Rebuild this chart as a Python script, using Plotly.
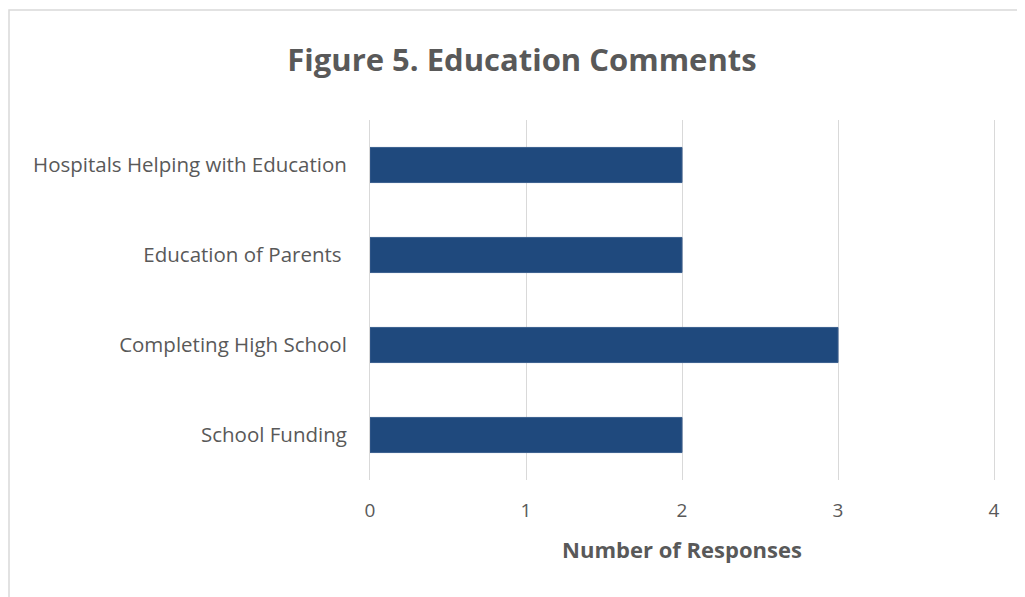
import plotly.graph_objects as go

categories = ["School Funding", "Completing High School", "Education of Parents\u00a0", "Hospitals Helping with Education"]
values = [2, 3, 2, 2]
x_ticks = [0, 1, 2, 3, 4]

# page body has an 8px margin, so the figure is drawn 8px smaller
W, H = 1017, 589
L, R, T, B = 362, 31, 112, 117
pw, ph = W - L - R, H - T - B

fig = go.Figure(go.Bar(
    y=categories, x=values, orientation="h",
    marker=dict(color="#1F497D", line=dict(color="#3A5F8F", width=1)),
))

fig.update_layout(
    width=W, height=H,
    margin=dict(l=L, r=R, t=T, b=B),
    paper_bgcolor="white", plot_bgcolor="white",
    bargap=0.61,
    showlegend=False,
    font=dict(family="Open Sans, sans-serif", color="#595959", size=20),
    title=dict(text="<b>Figure 5. Education Comments</b>", x=514 / W, xanchor="center",
               y=1 - 52 / H, yanchor="middle", font=dict(size=31, color="#595959")),
    xaxis=dict(range=[0, 4], tickvals=x_ticks, showgrid=True, gridcolor="#D9D9D9", gridwidth=1,
               zeroline=False, showline=False, ticks="", ticklabelstandoff=17,
               tickfont=dict(size=19),
               title=dict(text="<b>Number of Responses</b>", font=dict(size=22, color="#595959"), standoff=20)),
    yaxis=dict(showgrid=False, zeroline=False, showline=True, mirror=True, linecolor="#D9D9D9",
               linewidth=1, ticks="", ticklabelstandoff=18, tickfont=dict(size=20.5)),
    shapes=[dict(type="rect", xref="paper", yref="paper",
                 x0=(1 - L) / pw, x1=(W + 20 - L) / pw,
                 y0=(H - B - (H + 20)) / ph, y1=(H - B - 2) / ph,
                 line=dict(color="#D9D9D9", width=1.5), fillcolor="rgba(0,0,0,0)", layer="below")],
)

fig.write_html("out.html")
